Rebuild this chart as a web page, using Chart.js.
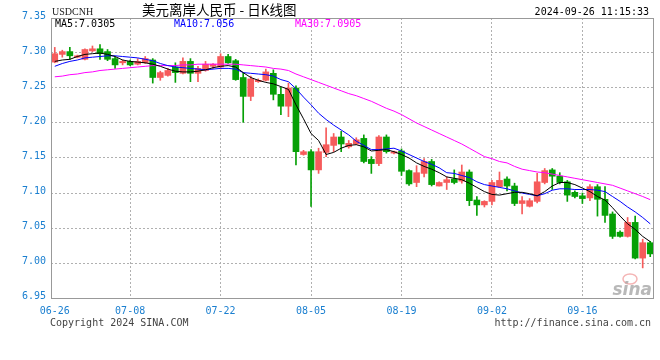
<!DOCTYPE html>
<html>
<head>
<meta charset="utf-8">
<script src="https://cdn.jsdelivr.net/npm/chart.js@4.4.0/dist/chart.umd.min.js"></script>
<style>
  html, body { margin: 0; padding: 0; background: #fff; }
</style>
</head>
<body>
<canvas id="kline" width="660" height="360"></canvas>
<script>
// daily bars (Sina feed has a short Saturday bar each week)
const dates = [
  '06-26','06-27','06-28','06-29','07-01','07-02','07-03','07-04','07-05','07-06',
  '07-08','07-09','07-10','07-11','07-12','07-13','07-15','07-16','07-17','07-18',
  '07-19','07-20','07-22','07-23','07-24','07-25','07-26','07-27','07-29','07-30',
  '07-31','08-01','08-02','08-03','08-05','08-06','08-07','08-08','08-09','08-10',
  '08-12','08-13','08-14','08-15','08-16','08-17','08-19','08-20','08-21','08-22',
  '08-23','08-24','08-26','08-27','08-28','08-29','08-30','08-31','09-02','09-03',
  '09-04','09-05','09-06','09-07','09-09','09-10','09-11','09-12','09-13','09-14',
  '09-16','09-17','09-18','09-19','09-20','09-21','09-23','09-24','09-25','09-26'
];
const tickDates = ['06-26', '07-08', '07-22', '08-05', '08-19', '09-02', '09-16'];

const openP = [
  7.287, 7.298, 7.302, 7.294, 7.291, 7.303, 7.306, 7.302, 7.292, 7.286,
  7.288, 7.284, 7.286, 7.290, 7.265, 7.268, 7.280, 7.271, 7.288, 7.271,
  7.275, 7.281, 7.280, 7.295, 7.289, 7.265, 7.238, 7.259, 7.261, 7.271,
  7.241, 7.224, 7.250, 7.155, 7.159, 7.133, 7.158, 7.168, 7.180, 7.166,
  7.170, 7.178, 7.148, 7.142, 7.180, 7.157, 7.160, 7.132, 7.115, 7.128,
  7.145, 7.110, 7.115, 7.120, 7.117, 7.130, 7.090, 7.083, 7.088, 7.109,
  7.120, 7.110, 7.085, 7.081, 7.088, 7.115, 7.133, 7.124, 7.116, 7.101,
  7.096, 7.093, 7.109, 7.091, 7.070, 7.044, 7.038, 7.058, 7.007, 7.029
];
const highP = [
  7.308, 7.304, 7.308, 7.297, 7.306, 7.310, 7.312, 7.305, 7.294, 7.290,
  7.290, 7.292, 7.295, 7.292, 7.274, 7.278, 7.286, 7.293, 7.292, 7.281,
  7.288, 7.285, 7.299, 7.298, 7.291, 7.271, 7.267, 7.263, 7.277, 7.276,
  7.251, 7.257, 7.253, 7.161, 7.162, 7.164, 7.193, 7.185, 7.188, 7.175,
  7.179, 7.183, 7.152, 7.182, 7.183, 7.160, 7.163, 7.133, 7.139, 7.149,
  7.148, 7.116, 7.123, 7.133, 7.140, 7.133, 7.095, 7.089, 7.118, 7.130,
  7.123, 7.114, 7.095, 7.092, 7.128, 7.135, 7.135, 7.129, 7.118, 7.103,
  7.100, 7.112, 7.112, 7.109, 7.073, 7.046, 7.065, 7.067, 7.034, 7.031
];
const lowP = [
  7.286, 7.294, 7.291, 7.293, 7.290, 7.302, 7.291, 7.289, 7.278, 7.283,
  7.282, 7.283, 7.285, 7.257, 7.261, 7.267, 7.258, 7.270, 7.259, 7.259,
  7.274, 7.278, 7.277, 7.285, 7.261, 7.201, 7.232, 7.258, 7.260, 7.233,
  7.212, 7.209, 7.140, 7.154, 7.081, 7.128, 7.152, 7.159, 7.159, 7.164,
  7.169, 7.143, 7.128, 7.139, 7.157, 7.156, 7.125, 7.111, 7.109, 7.123,
  7.110, 7.110, 7.105, 7.113, 7.114, 7.082, 7.068, 7.080, 7.083, 7.108,
  7.103, 7.082, 7.070, 7.080, 7.086, 7.113, 7.105, 7.113, 7.088, 7.093,
  7.085, 7.089, 7.067, 7.058, 7.035, 7.037, 7.037, 7.006, 6.993, 7.009
];
const closeP = [
  7.299, 7.302, 7.296, 7.296, 7.305, 7.306, 7.299, 7.291, 7.283, 7.288,
  7.283, 7.288, 7.292, 7.265, 7.272, 7.275, 7.272, 7.288, 7.271, 7.278,
  7.284, 7.284, 7.295, 7.286, 7.262, 7.238, 7.263, 7.261, 7.273, 7.241,
  7.224, 7.250, 7.159, 7.159, 7.133, 7.159, 7.169, 7.180, 7.170, 7.171,
  7.176, 7.145, 7.142, 7.180, 7.159, 7.159, 7.131, 7.113, 7.129, 7.145,
  7.112, 7.115, 7.119, 7.115, 7.130, 7.089, 7.083, 7.088, 7.115, 7.118,
  7.110, 7.085, 7.089, 7.089, 7.116, 7.132, 7.124, 7.115, 7.097, 7.095,
  7.092, 7.109, 7.091, 7.068, 7.038, 7.038, 7.058, 7.007, 7.029, 7.013
];

// moving averages as drawn on the picture
const ma5 = [
  7.288, 7.290, 7.291, 7.295, 7.298, 7.299, 7.300, 7.298, 7.295, 7.290,
  7.288, 7.287, 7.286, 7.284, 7.281, 7.277, 7.274, 7.273, 7.273, 7.274,
  7.276, 7.279, 7.281, 7.282, 7.280, 7.272, 7.265, 7.261, 7.258, 7.256,
  7.252, 7.248, 7.226, 7.206, 7.185, 7.175, 7.155, 7.158, 7.164, 7.168,
  7.169, 7.166, 7.160, 7.161, 7.162, 7.159, 7.155, 7.150, 7.143, 7.138,
  7.134, 7.129, 7.123, 7.121, 7.119, 7.114, 7.108, 7.102, 7.098, 7.097,
  7.099, 7.101, 7.101, 7.099, 7.096, 7.102, 7.110, 7.115, 7.115, 7.112,
  7.107, 7.102, 7.095, 7.090, 7.079, 7.067, 7.056, 7.048, 7.038, 7.0305
];
const ma10 = [
  7.281, 7.285, 7.288, 7.290, 7.293, 7.294, 7.295, 7.296, 7.296, 7.295,
  7.294, 7.293, 7.291, 7.289, 7.285, 7.282, 7.280, 7.279, 7.278, 7.277,
  7.276, 7.277, 7.278, 7.278, 7.277, 7.272, 7.271, 7.270, 7.269, 7.267,
  7.262, 7.259, 7.249, 7.237, 7.226, 7.214, 7.205, 7.197, 7.190, 7.183,
  7.174, 7.168, 7.162, 7.162, 7.163, 7.164, 7.160, 7.155, 7.150, 7.145,
  7.141, 7.136, 7.129, 7.128, 7.125, 7.122, 7.116, 7.112, 7.110, 7.108,
  7.106, 7.103, 7.100, 7.098, 7.096, 7.099, 7.104, 7.106, 7.106, 7.105,
  7.105, 7.105, 7.104, 7.102, 7.095, 7.088, 7.080, 7.073, 7.065, 7.056
];
const ma30 = [
  7.266, 7.267, 7.269, 7.270, 7.272, 7.273, 7.275, 7.276, 7.277, 7.278,
  7.279, 7.280, 7.281, 7.282, 7.282, 7.282, 7.282, 7.283, 7.283, 7.284,
  7.284, 7.284, 7.284, 7.284, 7.284, 7.283, 7.282, 7.281, 7.280, 7.278,
  7.277, 7.275, 7.270, 7.266, 7.262, 7.258, 7.254, 7.250, 7.246, 7.242,
  7.239, 7.235, 7.231, 7.226, 7.221, 7.217, 7.212, 7.206, 7.200, 7.195,
  7.190, 7.185, 7.180, 7.175, 7.170, 7.164, 7.158, 7.152, 7.149, 7.145,
  7.143, 7.138, 7.134, 7.132, 7.130, 7.129, 7.127, 7.125, 7.123, 7.121,
  7.119, 7.117, 7.115, 7.113, 7.111, 7.107, 7.103, 7.099, 7.095, 7.0905
];

const yMin = 6.95, yMax = 7.35, yStep = 0.05;

const upColor = '#f65b5b';
const downColor = '#06a006';
const axisBlue = '#1a7fd0';
const gridGray = '#b0b0b0';
const mono = 'DejaVu Sans Mono';

const candleColors = closeP.map((c, i) => c >= openP[i] ? upColor : downColor);

const overlay = {
  id: 'overlay',
  afterDraw(chart) {
    const { ctx, chartArea: a } = chart;
    ctx.save();
    // frame
    ctx.strokeStyle = '#999';
    ctx.lineWidth = 1;
    ctx.setLineDash([]);
    ctx.strokeRect(Math.round(a.left) + 0.5, Math.round(a.top) + 0.5,
      Math.round(a.right - a.left) - 1, Math.round(a.bottom - a.top));

    ctx.textBaseline = 'middle';
    // header
    ctx.fillStyle = '#222';
    ctx.font = '10px "Liberation Serif"';
    ctx.textAlign = 'left';
    ctx.fillText('USDCNH', 52, 12);
    ctx.font = '13.5px "Noto Sans CJK SC"';
    ctx.fillStyle = '#000';
    ctx.fillText('美元离岸人民币 - 日K线图', 142, 10);
    ctx.font = '10px "' + mono + '"';
    ctx.textAlign = 'right';
    ctx.fillText('2024-09-26 11:15:33', 649, 12);

    // MA labels
    ctx.textAlign = 'left';
    ctx.fillStyle = '#000';
    ctx.fillText('MA5:7.0305', 55, 24);
    ctx.fillStyle = '#0000ff';
    ctx.fillText('MA10:7.056', 174, 24);
    ctx.fillStyle = '#ff00ff';
    ctx.fillText('MA30:7.0905', 295, 24);

    // footer
    ctx.fillStyle = '#444';
    ctx.fillText('Copyright 2024 SINA.COM', 50, 323);
    ctx.textAlign = 'right';
    ctx.fillText('http://finance.sina.com.cn', 651, 323);

    // sina watermark
    ctx.strokeStyle = 'rgba(235,120,120,0.55)';
    ctx.lineWidth = 1.5;
    ctx.beginPath();
    ctx.ellipse(630, 279, 7, 5, 0, 0, Math.PI * 2);
    ctx.stroke();
    ctx.font = 'italic bold 17px "DejaVu Sans"';
    ctx.fillStyle = 'rgba(160,160,160,0.75)';
    ctx.textAlign = 'right';
    ctx.fillText('sina', 652, 291);
    ctx.restore();
  }
};

new Chart(document.getElementById('kline'), {
  type: 'bar',
  data: {
    labels: dates,
    datasets: [
      {
        label: 'MA5', type: 'line', data: ma5, borderColor: '#000', borderWidth: 1,
        pointRadius: 0, tension: 0, order: 1
      },
      {
        label: 'MA10', type: 'line', data: ma10, borderColor: '#0000ff', borderWidth: 1,
        pointRadius: 0, tension: 0, order: 1
      },
      {
        label: 'MA30', type: 'line', data: ma30, borderColor: '#ff00ff', borderWidth: 1,
        pointRadius: 0, tension: 0, order: 1
      },
      {
        label: 'body', data: dates.map((d, i) => [openP[i], closeP[i]]),
        backgroundColor: candleColors, barThickness: 6, minBarLength: 1,
        grouped: false, order: 2
      },
      {
        label: 'wick', data: dates.map((d, i) => [lowP[i], highP[i]]),
        backgroundColor: candleColors, barThickness: 1, minBarLength: 1,
        grouped: false, order: 3
      }
    ]
  },
  options: {
    responsive: false,
    animation: false,
    events: [],
    layout: { padding: { top: 18, right: 6, left: 0, bottom: 0 } },
    plugins: { legend: { display: false }, tooltip: { enabled: false } },
    scales: {
      x: {
        offset: true,
        grid: {
          offset: false,
          drawTicks: false,
          color: c => (c.index > 0 && tickDates.includes(dates[c.index])) ? gridGray : 'rgba(0,0,0,0)'
        },
        border: { display: false, dash: [2, 2] },
        ticks: {
          autoSkip: false, maxRotation: 0, padding: 7, color: axisBlue,
          font: { family: mono, size: 10 },
          callback: (v, i) => tickDates.includes(dates[i]) ? dates[i] : ''
        },
        afterFit: s => { s.height = 62; }
      },
      y: {
        min: yMin, max: yMax,
        grid: { drawTicks: false, color: gridGray },
        border: { display: false, dash: [2, 2] },
        ticks: {
          stepSize: yStep, padding: 5, color: axisBlue, labelOffset: -2,
          font: { family: mono, size: 10 },
          callback: v => Number(v).toFixed(2)
        },
        afterFit: s => { s.width = 51; }
      }
    }
  },
  plugins: [overlay]
});
</script>
</body>
</html>
